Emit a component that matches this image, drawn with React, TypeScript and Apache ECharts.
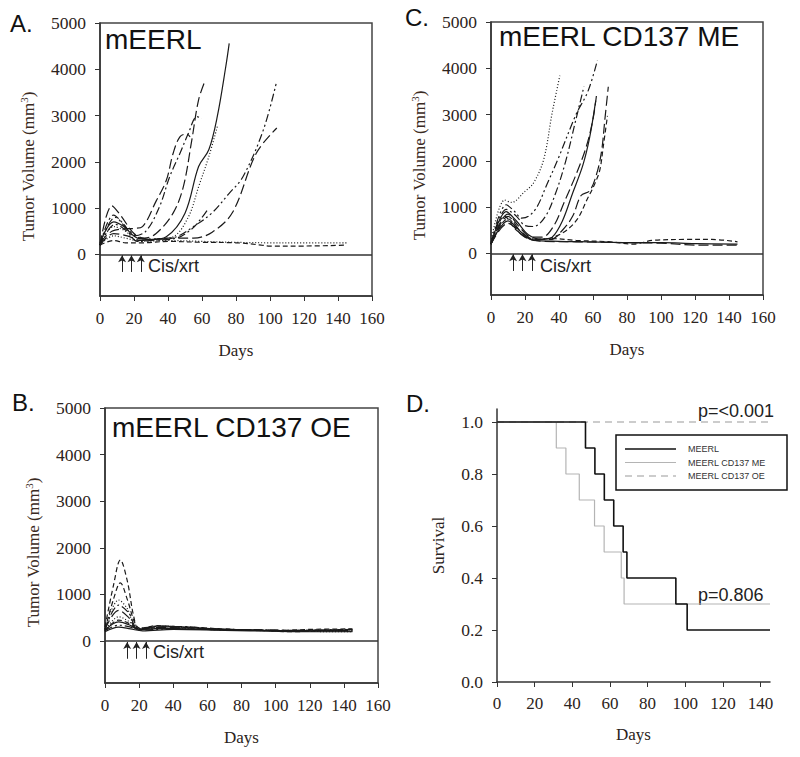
import React, { useEffect, useRef } from "react";
import * as echarts from "echarts";

// ---------- tick labels ----------
const dayTicks = [0, 20, 40, 60, 80, 100, 120, 140, 160];
const volTicks = [0, 1000, 2000, 3000, 4000, 5000];
const survTicks = [0, 0.2, 0.4, 0.6, 0.8, 1.0];
const survDayTicks = [0, 20, 40, 60, 80, 100, 120, 140];
const treatDays = [13, 18.5, 24];

// ---------- Panel A : mEERL ----------
const aCurve1 = [[0, 250], [7, 500], [14, 550], [20, 560], [25, 600], [33, 1150], [39, 1600], [43, 2180], [47, 2540], [51, 2600], [53, 2540]];
const aCurve2 = [[0, 200], [8, 850], [14, 650], [20, 400], [27, 500], [35, 1030], [41, 1680], [47, 2180], [52, 2615], [57, 2975], [60, 2940]];
const aCurve3 = [[0, 200], [7, 1050], [12, 850], [20, 450], [26, 350], [33, 450], [43, 890], [49, 1460], [54, 2470], [58, 3340], [62, 3770]];
const aCurve4 = [[0, 250], [8, 700], [14, 600], [22, 350], [30, 320], [39, 380], [50, 890], [58, 1900], [64, 2260], [69, 2980], [74, 4060], [76, 4560]];
const aCurve5 = [[0, 200], [8, 600], [15, 500], [22, 300], [32, 330], [43, 380], [52, 810], [58, 1460], [64, 2110], [69, 2760]];
const aCurve6 = [[0, 200], [9, 800], [16, 550], [24, 350], [35, 330], [45, 380], [55, 600], [66, 900], [76, 1320], [84, 1670], [96, 2680], [104, 3750]];
const aCurve7 = [[0, 200], [8, 450], [16, 400], [24, 300], [40, 350], [55, 350], [66, 480], [78, 910], [92, 2190], [104, 2730]];
const aCurve8 = [[0, 200], [9, 650], [16, 500], [22, 280], [30, 300], [45, 350], [54, 550], [59, 750], [63, 950]];
const aCurve9 = [[0, 200], [8, 400], [15, 350], [25, 280], [40, 300], [60, 280], [80, 260], [100, 250], [120, 250], [145, 250]];
const aCurve10 = [[0, 200], [8, 300], [15, 250], [25, 250], [40, 280], [60, 260], [80, 250], [95, 200], [100, 180], [120, 180], [145, 200]];

// ---------- Panel C : mEERL CD137 ME ----------
const cCurve1 = [[0, 250], [8, 1150], [12, 1100], [20, 1340], [25, 1520], [31, 2030], [36, 3040], [40.5, 3840]];
const cCurve2 = [[0, 200], [9, 1050], [14, 900], [18, 760], [22, 800], [27, 1000], [33, 1500], [39, 2000], [50, 3000], [57, 3500], [62.6, 4170]];
const cCurve3 = [[0, 200], [9, 950], [15, 800], [20, 600], [25, 580], [32, 800], [38, 1300], [44, 2000], [50, 2900], [54.7, 3610]];
const cCurve4 = [[0, 200], [10, 850], [16, 600], [24, 350], [30, 350], [37, 600], [43, 1100], [50, 1700], [56, 2300], [60, 2900], [62, 3400]];
const cCurve5 = [[0, 200], [9, 900], [15, 700], [22, 400], [30, 300], [36, 350], [42, 700], [48, 1300], [54, 1900], [58, 2500], [61.6, 3300]];
const cCurve6 = [[0, 200], [10, 800], [18, 450], [26, 300], [35, 300], [42, 500], [48, 800], [53, 1250], [58, 1350], [62, 1700], [65, 2200], [67, 2900], [69, 3600]];
const cCurve7 = [[0, 200], [10, 750], [18, 400], [28, 300], [40, 400], [50, 700], [57, 1200], [61, 1500], [64, 1800], [66, 2300], [68.5, 2970]];
const cCurve8 = [[0, 200], [8, 800], [15, 500], [25, 300], [35, 320], [50, 280], [70, 250], [84, 200], [95, 280], [115, 300], [130, 300], [145, 250]];
const cCurve9 = [[0, 200], [10, 700], [18, 450], [25, 280], [40, 260], [60, 250], [80, 230], [100, 230], [120, 210], [145, 200]];
const cCurve10 = [[0, 200], [10, 650], [20, 350], [30, 260], [50, 250], [80, 230], [100, 220], [120, 180], [145, 180]];

// ---------- Panel B : mEERL CD137 OE ----------
const bCurve1 = [[0, 300], [5, 1200], [9, 1740], [13, 1300], [17, 500], [20, 250], [30, 330], [45, 300], [60, 260], [80, 240], [100, 220], [120, 250], [145, 260]];
const bCurve2 = [[0, 250], [5, 900], [9, 1250], [13, 900], [18, 350], [22, 250], [32, 320], [50, 290], [70, 250], [90, 230], [110, 200], [130, 230], [145, 240]];
const bCurve3 = [[0, 250], [8, 880], [13, 700], [18, 300], [25, 270], [40, 300], [60, 250], [85, 230], [105, 210], [125, 240], [145, 220]];
const bCurve4 = [[0, 250], [8, 770], [14, 600], [19, 280], [28, 300], [45, 310], [65, 260], [90, 240], [115, 220], [145, 250]];
const bCurve5 = [[0, 250], [8, 660], [14, 500], [19, 260], [30, 290], [50, 280], [75, 250], [100, 230], [125, 220], [145, 230]];
const bCurve6 = [[0, 220], [8, 520], [14, 420], [20, 260], [35, 280], [60, 260], [85, 230], [110, 210], [145, 200]];
const bCurve7 = [[0, 230], [8, 410], [14, 350], [20, 250], [35, 270], [55, 250], [80, 240], [110, 220], [145, 210]];
const bCurve8 = [[0, 220], [8, 340], [15, 300], [21, 240], [40, 260], [70, 240], [95, 230], [120, 230], [145, 240]];
const bCurve9 = [[0, 200], [8, 300], [15, 260], [22, 220], [40, 250], [70, 230], [100, 210], [130, 200], [145, 200]];
const bCurve10 = [[0, 220], [8, 450], [14, 380], [20, 240], [30, 320], [50, 300], [80, 240], [110, 230], [145, 250]];

// ---------- Panel D : survival ----------
const survNames = ["MEERL", "MEERL CD137 ME", "MEERL CD137 OE"];
const survMEERL = [[0, 1], [47, 0.9], [52, 0.8], [57, 0.7], [62, 0.6], [67, 0.5], [69, 0.4], [95, 0.3], [101, 0.2], [145, 0.2]];
const survME = [[0, 1], [31.5, 0.9], [36.6, 0.8], [43.7, 0.7], [51.8, 0.6], [56.9, 0.5], [66, 0.4], [67.5, 0.3], [145, 0.3]];
const survOE = [[0, 1], [145, 1]];

const SERIF = "Liberation Serif";
const SANS = "Liberation Sans";
const INK = "#2b2320";

const DASH = {
  solid: "solid" as any,
  dotted: [1, 2],
  dashed: [5, 3],
  long: [10, 4],
  dashdot: [8, 3, 2, 3],
  dashdotdot: [8, 3, 2, 3, 2, 3],
};

const panelA = [
  [aCurve1, DASH.long], [aCurve2, DASH.dashdot], [aCurve3, DASH.long], [aCurve4, DASH.solid],
  [aCurve5, DASH.dotted], [aCurve6, DASH.dashdotdot], [aCurve7, DASH.long], [aCurve8, DASH.dashdot],
  [aCurve9, DASH.dotted], [aCurve10, DASH.dashed],
];
const panelC = [
  [cCurve1, DASH.dotted], [cCurve2, DASH.dashdotdot], [cCurve3, DASH.dashdot], [cCurve4, DASH.long],
  [cCurve5, DASH.solid], [cCurve6, DASH.long], [cCurve7, DASH.dashed], [cCurve8, DASH.dashed],
  [cCurve9, DASH.solid], [cCurve10, DASH.long],
];
const panelB = [
  [bCurve1, DASH.dashed], [bCurve2, DASH.dashed], [bCurve3, DASH.dotted], [bCurve4, DASH.dashdot],
  [bCurve5, DASH.long], [bCurve6, DASH.dotted], [bCurve7, DASH.solid], [bCurve8, DASH.dashdotdot],
  [bCurve9, DASH.solid], [bCurve10, DASH.dashed],
];

function tumorX(gi: number) {
  return {
    type: "value", gridIndex: gi, min: 0, max: 160, interval: 20,
    axisLine: { show: true, onZero: false, lineStyle: { color: "#333", width: 1.5 } },
    axisTick: { show: true, length: 5, customValues: dayTicks, lineStyle: { color: "#333", width: 1 } },
    axisLabel: { color: INK, fontFamily: SERIF, fontSize: 17, margin: 14, customValues: dayTicks },
    splitLine: { show: false },
    name: "Days", nameLocation: "middle", nameGap: 46,
    nameTextStyle: { color: INK, fontFamily: SERIF, fontSize: 17 },
  };
}
function tumorY(gi: number) {
  return {
    type: "value", gridIndex: gi, min: -900, max: 5000,
    axisLine: { show: true, onZero: false, lineStyle: { color: "#333", width: 1.5 } },
    axisTick: { show: true, length: 5, customValues: volTicks, lineStyle: { color: "#333", width: 1 } },
    axisLabel: {
      color: INK, fontFamily: SERIF, fontSize: 17.5, margin: 14, customValues: volTicks,
      formatter: (v: number) => String(v),
    },
    splitLine: { show: false },
    name: "Tumor Volume (mm{sup|3})", nameLocation: "middle", nameGap: 62, nameRotate: 90,
    nameTextStyle: {
      color: "#3a2a22", fontFamily: SERIF, fontSize: 17, padding: [0, 14, 0, 0],
      rich: { sup: { fontFamily: SERIF, fontSize: 11, color: "#3a2a22", padding: [0, 0, 9, 0] } },
    },
  };
}

function tumorSeries(gi: number, list: any[]) {
  const out: any[] = list.map(([data, dash], i) => ({
    type: "line", name: "t" + gi + "_" + i, xAxisIndex: gi, yAxisIndex: gi, data,
    smooth: 0.35, symbol: "none", silent: true, z: 3,
    lineStyle: { color: "#1a1a1a", width: 1.2, type: dash },
  }));
  out[0].markLine = {
    silent: true, symbol: "none", animation: false,
    label: { show: false },
    lineStyle: { color: "#333", width: 1.5, type: "solid" },
    data: [{ yAxis: 0 }],
  };
  out[1].markLine = {
    silent: true, symbol: ["none", "arrow"], symbolSize: [6, 7], animation: false,
    label: { show: false },
    lineStyle: { color: "#222", width: 1, type: "solid" },
    data: treatDays.map((d) => [{ coord: [d, -380] }, { coord: [d, -20] }]),
  };
  return out;
}

const survStyles = [
  { color: "#111", type: "solid", width: 1.6 },
  { color: "#b4b4b4", type: "solid", width: 1.2 },
  { color: "#9a9a9a", type: [7, 5], width: 1.2 },
];

export default function App() {
  const ref = useRef<HTMLDivElement>(null);
  useEffect(() => {
    document.body.style.margin = "0";
    const chart = echarts.init(ref.current!, null, { renderer: "svg" });
    const survData = [survMEERL, survME, survOE];
    const legendX = 616, legendY = 435;
    const legendGraphic: any[] = [
      { type: "rect", shape: { x: legendX, y: legendY, width: 171, height: 55 }, style: { fill: "#fff", stroke: "#111", lineWidth: 1.5 }, z: 10 },
    ];
    survNames.forEach((n, i) => {
      const y = legendY + 14 + i * 13.5;
      const st = survStyles[i];
      legendGraphic.push({
        type: "line", shape: { x1: legendX + 9, y1: y, x2: legendX + 60, y2: y },
        style: { stroke: st.color, lineWidth: st.width, lineDash: st.type === "solid" ? null : st.type }, z: 11,
      });
      legendGraphic.push({
        type: "text", x: legendX + 72, y: y, style: { text: n, font: `9px ${SANS}`, fill: "#333", verticalAlign: "middle" }, z: 11,
      });
    });
    const option: any = {
      animation: false,
      grid: [
        { left: 100, top: 23, width: 272, height: 273, show: true, borderColor: "#444", borderWidth: 1.5 },
        { left: 491, top: 22, width: 272, height: 273, show: true, borderColor: "#444", borderWidth: 1.5 },
        { left: 105, top: 408, width: 273, height: 275, show: true, borderColor: "#444", borderWidth: 1.5 },
        { left: 497, top: 409, width: 273, height: 273 },
      ],
      xAxis: [
        tumorX(0), tumorX(1), tumorX(2),
        {
          type: "value", gridIndex: 3, min: 0, max: 145,
          axisLine: { show: true, onZero: false, lineStyle: { color: "#333", width: 1.5 } },
          axisTick: { show: true, length: 5, customValues: survDayTicks, lineStyle: { color: "#333" } },
          axisLabel: { color: INK, fontFamily: SERIF, fontSize: 17, margin: 13, customValues: survDayTicks },
          splitLine: { show: false },
          name: "Days", nameLocation: "middle", nameGap: 44,
          nameTextStyle: { color: INK, fontFamily: SERIF, fontSize: 17 },
        },
      ],
      yAxis: [
        tumorY(0), tumorY(1), tumorY(2),
        {
          type: "value", gridIndex: 3, min: 0, max: 1.05,
          axisLine: { show: true, onZero: false, lineStyle: { color: "#333", width: 1.5 } },
          axisTick: { show: true, length: 5, customValues: survTicks, lineStyle: { color: "#333" } },
          axisLabel: {
            color: INK, fontFamily: SERIF, fontSize: 17.5, margin: 14, customValues: survTicks,
            formatter: (v: number) => v.toFixed(1),
          },
          splitLine: { show: false },
          name: "Survival", nameLocation: "middle", nameGap: 50, nameRotate: 90,
          nameTextStyle: { color: INK, fontFamily: SERIF, fontSize: 17 },
        },
      ],
      series: [
        ...tumorSeries(0, panelA),
        ...tumorSeries(1, panelC),
        ...tumorSeries(2, panelB),
        ...[2, 1, 0].map((i) => ({
          type: "line", name: survNames[i], xAxisIndex: 3, yAxisIndex: 3,
          data: survData[i], step: "end", symbol: "none", silent: true, z: 6 - i,
          lineStyle: { color: survStyles[i].color, width: survStyles[i].width, type: survStyles[i].type },
        })),
      ],
      graphic: [
        { type: "text", left: 10, top: 11, style: { text: "A.", font: `24px ${SANS}`, fill: "#111" } },
        { type: "text", left: 105, top: 25, style: { text: "mEERL", font: `28px ${SANS}`, fill: "#111" } },
        { type: "text", left: 405, top: 5, style: { text: "C.", font: `24px ${SANS}`, fill: "#111" } },
        { type: "text", left: 499, top: 22, style: { text: "mEERL CD137 ME", font: `28px ${SANS}`, fill: "#111" } },
        { type: "text", left: 12, top: 390, style: { text: "B.", font: `24px ${SANS}`, fill: "#111" } },
        { type: "text", left: 112, top: 413, style: { text: "mEERL CD137 OE", font: `28px ${SANS}`, fill: "#111" } },
        { type: "text", left: 406, top: 391, style: { text: "D.", font: `24px ${SANS}`, fill: "#111" } },
        { type: "text", left: 148, top: 257, style: { text: "Cis/xrt", font: `18px ${SANS}`, fill: "#222" } },
        { type: "text", left: 540, top: 257, style: { text: "Cis/xrt", font: `18px ${SANS}`, fill: "#222" } },
        { type: "text", left: 153, top: 643, style: { text: "Cis/xrt", font: `18px ${SANS}`, fill: "#222" } },
        { type: "text", left: 698, top: 402, style: { text: "p=<0.001", font: `18px ${SANS}`, fill: "#222" } },
        { type: "text", left: 698, top: 586, style: { text: "p=0.806", font: `18px ${SANS}`, fill: "#222" } },
        ...legendGraphic,
      ],
    };
    chart.setOption(option);
    return () => chart.dispose();
  }, []);
  return <div ref={ref} style={{ width: 800, height: 757 }} />;
}
